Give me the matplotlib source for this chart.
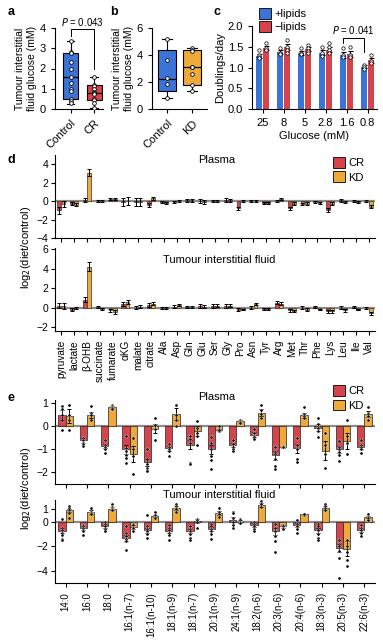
import matplotlib
matplotlib.use("Agg")
import matplotlib.pyplot as plt
import numpy as np
from matplotlib.patches import Patch

plt.rcParams['font.family'] = ['Liberation Sans', 'DejaVu Sans']
plt.rcParams['font.size'] = 7.5
plt.rcParams['axes.linewidth'] = 0.8
plt.rcParams['xtick.major.width'] = 0.8
plt.rcParams['ytick.major.width'] = 0.8
plt.rcParams['xtick.major.size'] = 3
plt.rcParams['ytick.major.size'] = 3

BLUE = '#3b74d6'
RED = '#d6434a'
ORANGE = '#efa83a'

# ---- panel a: TIF glucose, control vs CR
a_groups = ['Control', 'CR']
a_ctrl = [3.35, 2.8, 2.75, 2.3, 2.0, 1.6, 1.3, 1.0, 0.9, 0.5, 0.4, 0.3]
a_cr = [1.6, 1.2, 1.15, 1.0, 0.85, 0.8, 0.8, 0.75, 0.5, 0.45, 0.3, 0.05]
a_box = [(0.25, 0.47, 1.6, 2.75, 3.35), (0.05, 0.45, 0.8, 1.2, 1.6)]  # lo, q1, med, q3, hi

# ---- panel b: TIF glucose, control vs KD
b_groups = ['Control', 'KD']
b_ctrl = [5.2, 3.6, 2.3, 1.85, 0.8]
b_kd = [4.5, 4.4, 4.3, 3.1, 3.1, 2.6, 1.75, 1.3]
b_box = [(0.8, 1.35, 2.25, 4.35, 5.2), (1.3, 1.75, 3.1, 4.35, 4.5)]

# ---- panel c: doublings/day
c_glucose = ['25', '8', '5', '2.8', '1.6', '0.8']
c_plus = [1.28, 1.38, 1.35, 1.36, 1.31, 1.02]
c_minus = [1.47, 1.49, 1.44, 1.43, 1.33, 1.17]
c_plus_err = [0.05, 0.05, 0.05, 0.07, 0.07, 0.04]
c_minus_err = [0.05, 0.08, 0.05, 0.06, 0.07, 0.05]
c_plus_pts = [[1.42, 1.31, 1.26, 1.22], [1.46, 1.36, 1.32], [1.47, 1.35, 1.32],
              [1.5, 1.34, 1.27], [1.48, 1.3, 1.26], [1.07, 1.02, 0.96]]
c_minus_pts = [[1.58, 1.47, 1.42], [1.67, 1.5, 1.42, 1.34], [1.55, 1.46, 1.4, 1.34],
               [1.6, 1.5, 1.42, 1.34], [1.5, 1.3, 1.26], [1.3, 1.15, 1.11]]

# ---- panel d: metabolites
d_names = ['pyruvate', 'lactate', 'β-OHB', 'succinate', 'fumarate', 'αKG', 'malate',
           'citrate', 'Ala', 'Asp', 'Gln', 'Glu', 'Ser', 'Gly', 'Pro', 'Asn', 'Tyr',
           'Arg', 'Met', 'Thr', 'Phe', 'Lys', 'Leu', 'Ile', 'Val']
d_pl_cr = [-1.0, -0.3, 0.1, 0.0, 0.2, -0.1, -0.1, -0.4, -0.1, -0.1, 0.1, 0.0, 0.0,
           0.1, -0.8, 0.0, -0.2, 0.0, -0.8, -0.3, -0.1, -1.0, 0.1, 0.0, 0.0]
d_pl_kd = [-0.3, -0.4, 3.1, 0.0, 0.2, 0.0, -0.1, 0.3, -0.2, 0.0, 0.1, -0.1, 0.0,
           0.1, 0.0, 0.0, -0.2, 0.2, -0.3, -0.3, -0.2, -0.3, -0.1, -0.1, -0.6]
d_pl_cr_err = [0.35, 0.15, 0.2, 0.1, 0.1, 0.4, 0.4, 0.2, 0.1, 0.15, 0.15, 0.2, 0.15,
               0.2, 0.2, 0.1, 0.1, 0.1, 0.2, 0.1, 0.1, 0.2, 0.15, 0.1, 0.1]
d_pl_kd_err = [0.3, 0.15, 0.4, 0.1, 0.1, 0.4, 0.4, 0.15, 0.1, 0.1, 0.15, 0.2, 0.15,
               0.15, 0.1, 0.1, 0.1, 0.1, 0.15, 0.15, 0.1, 0.15, 0.15, 0.1, 0.15]
d_tif_cr = [0.2, -0.2, 0.8, 0.1, -0.3, 0.4, 0.0, 0.3, 0.0, 0.1, 0.1, 0.2, 0.2, 0.2,
            -0.2, 0.0, -0.1, 0.5, -0.3, 0.0, 0.1, -0.4, 0.0, 0.1, 0.0]
d_tif_kd = [0.2, 0.0, 4.2, -0.1, -0.5, 0.6, 0.1, 0.4, 0.0, 0.3, 0.1, 0.1, 0.2, 0.2,
            -0.2, 0.4, -0.1, 0.4, -0.4, -0.2, -0.2, -0.4, -0.3, -0.2, -0.6]
d_tif_cr_err = [0.25, 0.15, 0.25, 0.1, 0.15, 0.2, 0.15, 0.2, 0.1, 0.15, 0.1, 0.2, 0.2,
                0.2, 0.15, 0.15, 0.1, 0.15, 0.15, 0.15, 0.1, 0.15, 0.15, 0.1, 0.1]
d_tif_kd_err = [0.3, 0.1, 0.45, 0.1, 0.2, 0.2, 0.15, 0.15, 0.1, 0.1, 0.1, 0.15, 0.15,
                0.15, 0.1, 0.1, 0.1, 0.15, 0.1, 0.15, 0.1, 0.15, 0.15, 0.1, 0.15]

# ---- panel e: fatty acids
e_names = ['14:0', '16:0', '18:0', '16:1(n-7)', '16:1(n-10)', '18:1(n-9)', '18:1(n-7)',
           '20:1(n-9)', '24:1(n-9)', '18:2(n-6)', '20:3(n-6)', '20:4(n-6)',
           '18:3(n-3)', '20:5(n-3)', '22:6(n-3)']
e_pl_cr = [0.5, -0.6, -0.85, -1.0, -1.55, -0.95, -0.8, -1.0, -0.8, -0.35, -1.25, -0.95,
           -0.05, -1.0, -0.9]
e_pl_kd = [0.47, 0.5, 0.85, -1.2, -0.1, 0.55, -0.2, -0.15, 0.25, 0.6, -0.9, 0.48,
           -1.05, -0.65, 0.55]
e_pl_cr_err = [0.2, 0.1, 0.1, 0.2, 0.15, 0.1, 0.2, 0.2, 0.1, 0.1, 0.2, 0.2, 0.15, 0.15, 0.1]
e_pl_kd_err = [0.3, 0.15, 0.05, 0.35, 0.2, 0.25, 0.2, 0.05, 0.05, 0.15, 0.02, 0.1, 0.4, 0.35, 0.12]
e_pl_cr_pts = [[0.9, 0.75, 0.5, 0.3, -0.15], [-0.5, -0.6, -0.7, -0.75, -0.85],
               [-0.6, -0.8, -0.9, -1.0, -1.15], [-0.4, -0.95, -1.05, -1.25, -1.35, -1.6],
               [-1.0, -1.4, -1.65, -1.8, -1.9, -1.95], [-0.75, -0.9, -1.0, -1.05, -1.3],
               [-0.4, -0.55, -0.7, -1.6, -1.65], [-0.45, -0.7, -1.0, -1.3, -1.45, -1.85],
               [-0.6, -0.75, -0.9, -1.0, -1.05], [-0.1, -0.3, -0.4, -0.45, -0.55],
               [-0.9, -1.1, -1.2, -1.4, -1.7, -1.85], [-0.5, -0.8, -1.0, -1.4, -1.55],
               [0.35, 0.1, -0.05, -0.2, -0.45], [-0.65, -0.9, -1.0, -1.1, -1.25, -1.5],
               [-0.6, -0.8, -0.9, -1.0, -1.15]]
e_pl_kd_pts = [[0.95, 0.95, 0.5, 0.3, -0.15], [0.9, 0.6, 0.5, 0.3],
               [0.95, 0.9, 0.85, 0.8, 0.75], [-0.5, -1.0, -1.3, -2.05],
               [0.35, 0.05, -0.1, -0.6], [0.95, 0.95, 0.5, 0.3, 0.0],
               [0.25, -0.05, -0.3, -0.4, -0.8], [0.0, -0.1, -0.2, -0.15],
               [0.3, 0.25, 0.2, 0.15], [0.95, 0.7, 0.55, 0.35],
               [-0.85, -0.9, -0.9, -0.9], [0.85, 0.55, 0.45, 0.35],
               [-0.3, -0.8, -1.2, -1.8], [0.3, -0.4, -0.7, -1.2],
               [0.85, 0.6, 0.55, 0.45, 0.3]]
e_tif_cr = [-0.75, -0.55, -0.4, -1.35, -0.7, -0.75, -0.75, -0.6, 0.15, -0.3, -0.8, -0.3,
            -0.7, -2.15, -0.7]
e_tif_kd = [0.9, 0.75, 1.05, -0.45, 0.45, 1.1, 0.05, 0.7, 0.0, 1.35, -0.4, 0.6, 1.1,
            -2.2, 0.35]
e_tif_cr_err = [0.2, 0.15, 0.15, 0.25, 0.2, 0.15, 0.15, 0.15, 0.2, 0.15, 0.3, 0.15, 0.2, 0.35, 0.15]
e_tif_kd_err = [0.15, 0.15, 0.1, 0.15, 0.1, 0.15, 0.15, 0.15, 0.1, 0.15, 0.1, 0.05, 0.15, 0.6, 0.1]
e_tif_cr_pts = [[0.2, -0.5, -0.7, -0.9, -1.1, -1.4, -1.5], [-0.3, -0.4, -0.5, -0.7, -0.8, -1.1],
                [0.0, -0.2, -0.4, -0.6, -0.8], [-0.4, -0.9, -1.2, -1.4, -1.6, -2.3],
                [0.5, -0.4, -0.6, -0.8, -1.0, -1.3], [-0.3, -0.5, -0.7, -0.9, -1.1, -1.5],
                [-0.4, -0.6, -0.8, -1.0, -1.3, -1.5], [-0.2, -0.4, -0.6, -0.8, -1.0, -1.4],
                [0.8, 0.7, 0.3, 0.0, -0.3, -0.5], [0.0, -0.2, -0.4, -0.6, -0.8],
                [-0.2, -0.5, -0.8, -1.2, -1.6, -2.5], [0.1, -0.2, -0.4, -0.6, -0.9],
                [-0.2, -0.4, -0.7, -1.0, -1.3, -1.5], [-1.5, -1.8, -2.0, -2.4, -3.0, -4.6],
                [-0.3, -0.5, -0.7, -0.9, -1.2]]
e_tif_kd_pts = [[1.3, 1.1, 0.9, 0.7, 0.3], [1.1, 0.8, 0.7, 0.6], [1.4, 1.2, 1.1, 1.0, 0.9],
                [-0.2, -0.3, -0.5, -0.8], [0.8, 0.5, 0.4, 0.3], [1.4, 1.3, 1.1, 1.0, 0.8],
                [0.2, 0.1, 0.0, -0.5], [1.1, 0.8, 0.6, 0.4], [0.2, 0.1, 0.0, -0.1],
                [1.7, 1.5, 1.4, 1.2], [-0.3, -0.4, -0.5, -0.6], [0.6, 0.6, 0.5, 0.6],
                [1.4, 1.3, 1.1, 0.9], [-1.5, -2.0, -2.5, -3.1, -3.6], [0.6, 0.4, 0.3, 0.1]]

W, H = 383, 640
fig = plt.figure(figsize=(W / 100, H / 100), dpi=100)


def axes_px(x0, y0, x1, y1):
    return fig.add_axes([x0 / W, 1 - y1 / H, (x1 - x0) / W, (y1 - y0) / H])


def clean(ax):
    ax.spines['top'].set_visible(False)
    ax.spines['right'].set_visible(False)


def boxpanel(ax, boxes, pts, colors, labels, width, ymax, yticks):
    stats = [dict(whislo=b[0], q1=b[1], med=b[2], q3=b[3], whishi=b[4]) for b in boxes]
    bp = ax.bxp(stats, positions=[1, 2], widths=width, showfliers=False, patch_artist=True,
                medianprops=dict(color='k', lw=0.9), whiskerprops=dict(lw=0.8),
                capprops=dict(lw=0.8), boxprops=dict(lw=0.8))
    for patch, col in zip(bp['boxes'], colors):
        patch.set_facecolor(col)
    for i, p in enumerate(pts):
        ax.scatter(np.full(len(p), i + 1), p, s=7, facecolor='white', edgecolor='k',
                   lw=0.6, zorder=5)
    ax.set_ylim(0, ymax)
    ax.set_yticks(yticks)
    ax.tick_params(labelsize=8)
    ax.set_xticks([1, 2])
    ax.set_xticklabels(labels, rotation=45, ha='right', rotation_mode='anchor')
    ax.set_ylabel('Tumour interstitial\nfluid glucose (mM)', labelpad=2)
    clean(ax)


# a
ax = axes_px(55, 28, 103, 109)
boxpanel(ax, a_box, [a_ctrl, a_cr], [BLUE, RED], a_groups, 0.64, 4, [0, 1, 2, 3, 4])
ax.set_xlim(0.34, 2.38)
ax.plot([1, 1, 2, 2], [3.6, 3.95, 3.95, 2.0], color='k', lw=0.7)
ax.text(1.5, 4.02, '$P$ = 0.043', ha='center', va='bottom', fontsize=7)
ax.set_ylim(0, 4)

# b
ax = axes_px(152, 28, 207, 109)
boxpanel(ax, b_box, [b_ctrl, b_kd], [BLUE, ORANGE], b_groups, 0.74, 6, [0, 2, 4, 6])
ax.set_xlim(0.4, 2.6)

# c
ax = axes_px(252, 26, 377, 109)
xc = np.arange(len(c_glucose))
bw = 0.32
ax.bar(xc - 0.17, c_plus, bw, color=BLUE, edgecolor='none', label='+lipids')
ax.bar(xc + 0.17, c_minus, bw, color=RED, edgecolor='none', label='\u2212lipids')
ax.errorbar(xc - 0.17, c_plus, yerr=c_plus_err, fmt='none', ecolor='k', elinewidth=0.8,
            capsize=1.8, capthick=0.8)
ax.errorbar(xc + 0.17, c_minus, yerr=c_minus_err, fmt='none', ecolor='k', elinewidth=0.8,
            capsize=1.8, capthick=0.8)
for i in range(len(c_glucose)):
    ax.scatter(np.full(len(c_plus_pts[i]), xc[i] - 0.17), c_plus_pts[i], s=6,
               facecolor='white', edgecolor='k', lw=0.5, zorder=5)
    ax.scatter(np.full(len(c_minus_pts[i]), xc[i] + 0.17), c_minus_pts[i], s=6,
               facecolor='white', edgecolor='k', lw=0.5, zorder=5)
ax.plot([4 - 0.17, 4 - 0.17, 5 - 0.17, 5 - 0.17], [1.59, 1.72, 1.72, 1.38], color='k', lw=0.7)
ax.text(4.33, 1.76, '$P$ = 0.041', ha='center', va='bottom', fontsize=7)
ax.set_xlim(-0.5, 5.45)
ax.set_ylim(0, 2.0)
ax.set_yticks([0, 0.5, 1.0, 1.5, 2.0])
ax.set_yticklabels(['0.0', '0.5', '1.0', '1.5', '2.0'])
ax.set_xticks(xc)
ax.set_xticklabels(c_glucose)
ax.tick_params(labelsize=8)
ax.set_ylabel('Doublings/day', labelpad=2, fontsize=8)
ax.set_xlabel('Glucose (mM)', labelpad=2, fontsize=8)
ax.legend(handles=[Patch(facecolor=BLUE, edgecolor='k', lw=0.6, label='+lipids'),
                   Patch(facecolor=RED, edgecolor='k', lw=0.6, label='\u2212lipids')],
          loc='upper left', bbox_to_anchor=(0.02, 1.27), frameon=False, fontsize=8,
          handlelength=1.1, handleheight=1.1, handletextpad=0.3, labelspacing=0.2,
          borderaxespad=0)
clean(ax)


def diet_panel(ax, names, cr, kd, cr_err, kd_err, off, bw, ylim, yticks, title, ecol,
               cr_pts=None, kd_pts=None, ms=3):
    x = np.arange(len(names))
    ax.axhline(0, color='#8c8c8c', lw=1.6, zorder=1)
    ax.bar(x - off, cr, bw, color=RED, edgecolor=ecol, lw=0.5, zorder=2)
    ax.bar(x + off, kd, bw, color=ORANGE, edgecolor=ecol, lw=0.5, zorder=2)
    for xs, m, e in ((x - off, cr, cr_err), (x + off, kd, kd_err)):
        ax.errorbar(xs, m, yerr=e, fmt='none', ecolor='k', elinewidth=0.7, capsize=1.3,
                    capthick=0.7, zorder=4)
    if cr_pts is not None:
        for i in range(len(names)):
            ax.scatter(np.full(len(cr_pts[i]), x[i] - off), cr_pts[i], s=ms, color='k',
                       edgecolor='white', lw=0.3, zorder=5)
            ax.scatter(np.full(len(kd_pts[i]), x[i] + off), kd_pts[i], s=ms, color='k',
                       edgecolor='white', lw=0.3, zorder=5)
    ax.set_xlim(-0.5, len(names) - 0.5)
    ax.set_ylim(*ylim)
    ax.set_yticks(yticks)
    ax.set_yticklabels([str(t).replace('-', '\u2212') for t in yticks])
    ax.tick_params(axis='y', labelsize=7.5, pad=2)
    ax.set_xticks(x)
    ax.text(title[0], title[1], title[2], transform=ax.transAxes, fontsize=8, va='center')
    clean(ax)
    return x


def diet_legend(ax, y):
    ax.legend(handles=[Patch(facecolor=RED, edgecolor='k', lw=0.6, label='CR'),
                       Patch(facecolor=ORANGE, edgecolor='k', lw=0.6, label='KD')],
              loc='upper left', bbox_to_anchor=(0.855, y), frameon=False, fontsize=8,
              handlelength=1.1, handleheight=1.1, handletextpad=0.3, labelspacing=0.3,
              borderaxespad=0)


# d
ax = axes_px(55, 155, 375, 238)
diet_panel(ax, d_names, d_pl_cr, d_pl_kd, d_pl_cr_err, d_pl_kd_err, 0.17, 0.3, (-4, 5),
           [-4, -2, 0, 2, 4], (0.447, 0.94, 'Plasma'), '#333333')
ax.set_xticklabels([])
diet_legend(ax, 1.03)
ax = axes_px(55, 248, 375, 331)
diet_panel(ax, d_names, d_tif_cr, d_tif_kd, d_tif_cr_err, d_tif_kd_err, 0.17, 0.3,
           (-2.4, 6.1), [-2, 0, 2, 4, 6], (0.337, 0.86, 'Tumour interstitial fluid'),
           '#333333')
ax.set_xticklabels(d_names, rotation=90, fontsize=7.2)
fig.text(26 / W, 1 - 247 / H, 'log$_2$(diet/control)', rotation=90, ha='center',
         va='center', fontsize=8)

# e
ax = axes_px(55, 400, 375, 484)
diet_panel(ax, e_names, e_pl_cr, e_pl_kd, e_pl_cr_err, e_pl_kd_err, 0.17, 0.34,
           (-2.5, 1.15), [-2, -1, 0, 1], (0.447, 1.04, 'Plasma'), '#222222',
           e_pl_cr_pts, e_pl_kd_pts, ms=5)
ax.set_xticklabels([])
diet_legend(ax, 1.23)
ax = axes_px(55, 500, 375, 583)
diet_panel(ax, e_names, e_tif_cr, e_tif_kd, e_tif_cr_err, e_tif_kd_err, 0.17, 0.34,
           (-5, 1.75), [-4, -2, 0, 1], (0.337, 1.06, 'Tumour interstitial fluid'),
           '#222222', e_tif_cr_pts, e_tif_kd_pts, ms=5)
ax.set_xticklabels(e_names, rotation=90, fontsize=7)
fig.text(26 / W, 1 - 488 / H, 'log$_2$(diet/control)', rotation=90, ha='center',
         va='center', fontsize=8)

# panel letters
for lab, px, py in (('a', 8, 12), ('b', 110, 12), ('c', 213, 12), ('d', 8, 160), ('e', 8, 398)):
    fig.text(px / W, 1 - py / H, lab, fontsize=9, fontweight='bold', va='center')

fig.savefig('out.png', dpi=100)
